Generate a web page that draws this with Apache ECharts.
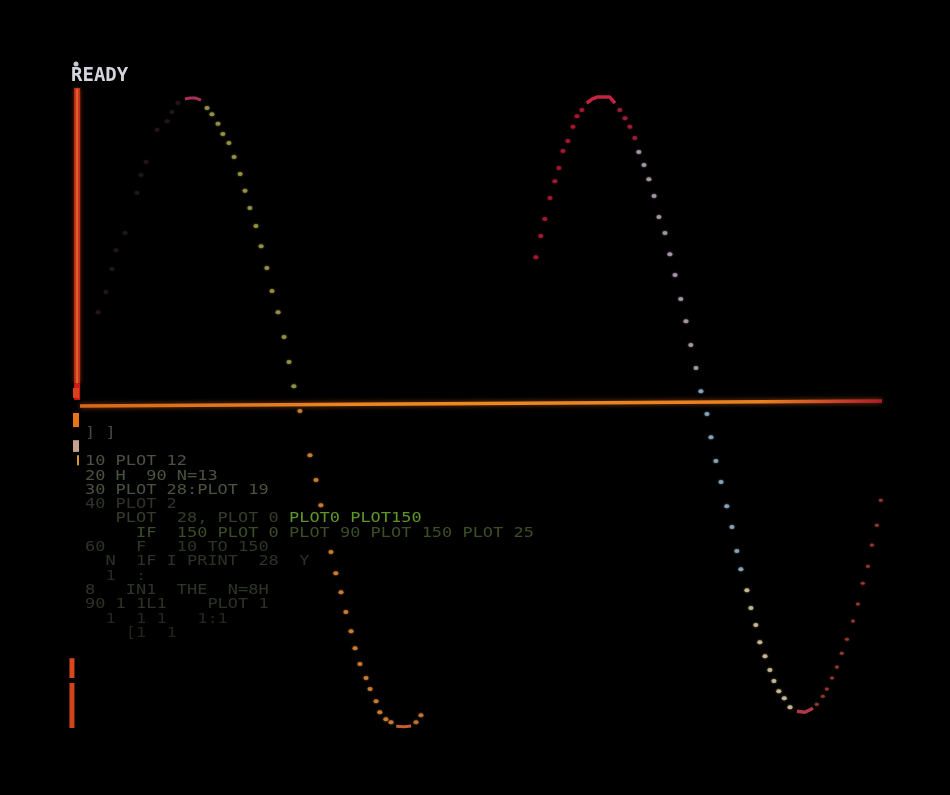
<!DOCTYPE html>
<html><head><meta charset="utf-8">
<script src="https://cdn.jsdelivr.net/npm/echarts@6/dist/echarts.min.js"></script>
<style>html,body{margin:0;padding:0;background:#000;}#c{width:950px;height:795px;}</style>
</head><body><div id="c"></div>
<script>
// ---- Data (Apple-style hi-res screen coordinates: x 0..279, y 0..191 downward) ----
const promptText = 'READY';

// BASIC listing rows as seen on screen (mostly faded)
const listingRows = [
  '] ]',
  '',
  '10 PLOT 12',
  '20 H  90 N=13',
  '30 PLOT 28:PLOT 19',
  '40 PLOT 2',
  '   PLOT  28, PLOT 0 ',
  '     IF  150 PLOT 0 PLOT 90 PLOT 150 PLOT 25',
  '60   F   10 TO 150',
  '  N  1F I PRINT  28  Y',
  '  1  :',
  '8   IN1  THE  N=8H',
  '90 1 1L1    PLOT 1',
  '  1  1 1   1:1',
  '    [1  1'
];
const brightRow = 6;
const brightCol = 20;
const brightText = 'PLOT0 PLOT150';

// first wave segment
const waveA_dimRise = [[6.3,66.3],[9.0,60.3],[11.1,53.4],[12.5,47.8],[15.7,42.7],[19.8,30.7],[21.2,25.4],[23.0,21.5],[26.8,11.9],[30.3,9.3],[32.0,6.6],[34.1,3.9]];
const waveA_peak = [[36.5,2.7],[38.3,2.4],[40.3,2.4],[42.1,3.0]];
const waveA_fall = [[44.2,5.4],[45.9,7.2],[48.0,10.1],[49.7,13.1],[51.8,15.8],[53.6,20.0],[55.7,25.1],[57.4,30.1],[59.1,35.2],[61.2,40.6],[63.0,46.6],[65.0,53.1],[66.8,60.0],[68.9,66.3],[71.0,73.7],[72.7,81.2],[74.4,88.4]];
const waveA_low = [[76.5,95.8],[80.0,109.0],[82.1,116.4],[83.8,123.9],[87.3,137.9],[89.0,144.2],[90.8,149.9],[92.5,155.8],[94.3,161.5],[95.7,166.6],[97.4,171.3],[99.5,175.5],[100.9,178.8],[103.0,182.4],[104.3,185.7],[106.4,187.8],[108.2,188.7]];
const waveA_trough = [[110.0,189.9],[112.7,190.0],[115.2,189.8]];
const waveA_after = [[116.9,188.7],[118.6,186.6]];

// second wave segment
const waveB_rise = [[158.6,49.9],[160.3,43.6],[161.7,38.5],[163.5,32.2],[165.2,27.2],[166.6,23.3],[168.0,18.2],[169.7,15.2],[171.5,11.0],[172.9,7.8],[174.6,6.0]];
const waveB_peak = [[176.3,3.9],[178.1,2.7],[179.8,2.1],[181.9,2.1],[184.3,2.1],[186.1,3.9]];
const waveB_fallRed = [[187.8,6.0],[189.6,8.4],[191.3,11.0],[193.0,14.3]];
const waveB_fallPale = [[194.4,18.5],[196.2,22.4],[197.9,26.6],[199.7,31.6],[201.4,37.9],[203.5,42.7],[205.2,49.0],[207.0,55.2],[209.0,62.4],[210.8,69.0],[212.5,76.1],[214.3,83.0]];
const waveB_fallBlue = [[216.0,89.9],[218.1,96.7],[219.5,103.6],[221.2,110.7],[223.0,117.0],[225.0,124.2],[226.8,130.4],[228.5,137.6],[229.9,143.0]];
const waveB_fallCream = [[232.0,149.3],[233.4,154.6],[235.1,159.7],[236.5,164.8],[238.3,169.0],[240.0,173.1],[241.4,176.4],[243.1,179.4],[245.0,181.5],[247.0,184.2]];
const waveB_trough = [[249.4,185.4],[252.2,185.7],[255.0,184.5]];
const waveB_riseEnd = [[256.3,183.3],[258.4,180.9],[259.8,178.8],[261.6,175.5],[263.3,172.2],[265.0,168.1],[266.8,163.9],[268.9,158.5],[270.6,153.4],[272.3,147.2],[274.1,142.1],[275.5,135.8],[277.2,129.9],[278.6,122.4]];

// axes drawn on the screen
const xAxisLine = [[0,94.3],[279,92.8]];
const yAxisMain = [[-1.0,-0.6],[-1.0,87.5]];
const yAxisRed = [[-1.0,87.5],[-1.0,92.5]];
const yAxisBlobs = [[[-1.4,88.9],[-1.4,91.9]],[[-1.4,96.4],[-1.4,100.6]],[[-1.4,104.5],[-1.4,108.0]],[[-0.7,109.0],[-0.7,112.0]]];
const yAxisLower = [[[-2.8,169.6],[-2.8,175.5]],[[-2.8,177.0],[-2.8,190.4]]];

// ---- Chart ----
const chart = echarts.init(document.getElementById('c'), null, {renderer:'canvas'});
const G = echarts.graphic;

function dots(name, data, color, size) {
  return {type:'scatter', name, data, symbol:'circle', symbolSize: size || [5,4],
    itemStyle:{color, shadowColor:color, shadowBlur:2}, silent:true, z:5};
}
function seg(data, color, width, z) {
  return {type:'line', data, showSymbol:false, silent:true, z: z||3,
    lineStyle:{color, width, cap:'butt'}};
}

const series = [
  {type:'line', data:xAxisLine, showSymbol:false, silent:true, z:2,
    lineStyle:{width:3.5, shadowBlur:5, shadowColor:'rgba(240,120,30,0.55)',
      color:new G.LinearGradient(0,0,1,0,[
        {offset:0,color:'#d8661a'},{offset:0.4,color:'#ee8a22'},{offset:0.85,color:'#e8801e'},
        {offset:0.93,color:'#d04a2a'},{offset:1,color:'#b0182e'}])}},
  Object.assign(seg(yAxisMain, '#c4301a', 6, 3), {lineStyle:{color:'#c4301a', width:6, cap:'butt', shadowBlur:4, shadowColor:'rgba(220,60,20,0.6)'}}),
  seg(yAxisMain, '#e0642a', 2, 4),
  seg(yAxisRed, '#d41818', 6),
  seg(yAxisBlobs[0], '#d8401c', 6),
  seg(yAxisBlobs[1], '#e87418', 6),
  seg(yAxisBlobs[2], '#c8a090', 6),
  seg(yAxisBlobs[3], '#d89a30', 2),
  seg(yAxisLower[0], '#d8481c', 5),
  seg(yAxisLower[1], '#d0441a', 5),

  dots('A rise', waveA_dimRise, '#24181c', [5,4]),
  seg(waveA_peak, '#a83058', 3, 5),
  dots('A fall', waveA_fall, '#a09a48'),
  dots('A low', waveA_low, '#d88434'),
  seg(waveA_trough, '#c85a34', 3, 5),
  dots('A after', waveA_after, '#d07a38'),

  dots('B rise', waveB_rise, '#b01a32'),
  seg(waveB_peak, '#c42440', 3.5, 5),
  dots('B fall red', waveB_fallRed, '#a82038'),
  dots('B fall pale', waveB_fallPale, '#b0a0b0'),
  dots('B fall blue', waveB_fallBlue, '#8eaec6'),
  dots('B fall cream', waveB_fallCream, '#d4c49c'),
  seg(waveB_trough, '#b03848', 3.5, 5),
  dots('B rise end', waveB_riseEnd, '#a04030', [4,3])
];

// listing text
const textX0 = 85, textY0 = 426, lineH = 14.3, charW = 10.2, fontPx = 14, sx = charW / (fontPx*0.602);
const rowColors = ['#4a4a44','#000','#4e5044','#4a5240','#4a5240','#2e3428','#363c2c','#3c4e26','#2e3426','#2c3224','#262b20','#2e3426','#2c3224','#23281e','#20241c'];
const graphics = [];
listingRows.forEach((row, i) => {
  if (!row) return;
  graphics.push({type:'text', x:textX0, y:textY0 + i*lineH, scaleX:sx, silent:true,
    style:{text:row, fill:rowColors[i], font:fontPx+'px "DejaVu Sans Mono"'}});
});
graphics.push({type:'text', x:textX0 + brightCol*charW, y:textY0 + brightRow*lineH, scaleX:sx, silent:true,
  style:{text:brightText, fill:'#5e9628', font:fontPx+'px "DejaVu Sans Mono"'}});
graphics.push({type:'circle', shape:{cx:76, cy:64, r:2.5}, style:{fill:'#c8c8d0'}, silent:true});

chart.setOption({
  backgroundColor:'#000',
  animation:false,
  title:{text:promptText, left:71, top:67, padding:0,
    textStyle:{color:'#d4d4de', fontFamily:'DejaVu Sans Mono', fontWeight:'bold', fontSize:19}},
  grid:{left:68.5, right:68, top:90, bottom:65},
  xAxis:{type:'value', min:-4, max:279, show:false},
  yAxis:{type:'value', min:0, max:191, inverse:true, show:false},
  series,
  graphic:graphics
});
</script>
</body></html>
